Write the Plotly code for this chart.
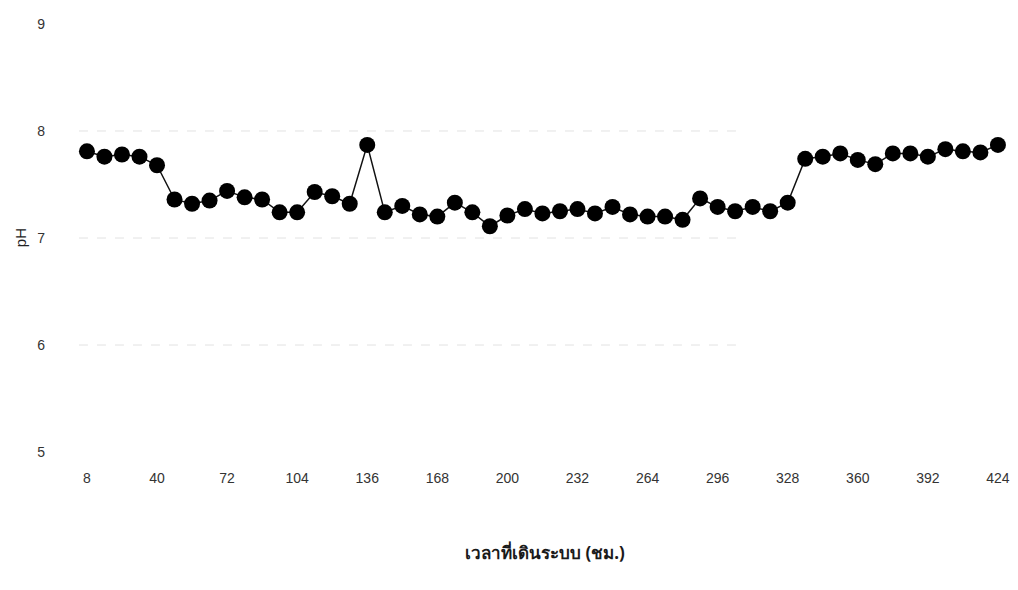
import plotly.graph_objects as go

# Operating time (hours) and measured pH
hours = [8 * i for i in range(1, 54)]
ph = [7.81, 7.76, 7.78, 7.76, 7.68, 7.36, 7.32, 7.35, 7.44, 7.38,
      7.36, 7.24, 7.24, 7.43, 7.39, 7.32, 7.87, 7.24, 7.30, 7.22,
      7.20, 7.33, 7.24, 7.11, 7.21, 7.27, 7.23, 7.25, 7.27, 7.23,
      7.29, 7.22, 7.20, 7.20, 7.17, 7.37, 7.29, 7.25, 7.29, 7.25,
      7.33, 7.74, 7.76, 7.79, 7.73, 7.69, 7.79, 7.79, 7.76, 7.83,
      7.81, 7.80, 7.87]

x_ticks = list(range(8, 425, 32))
y_ticks = [5, 6, 7, 8, 9]
grid_levels = [6, 7, 8]

fig = go.Figure()
fig.add_trace(go.Scatter(
    x=hours, y=ph, mode="lines+markers",
    line=dict(color="#111111", width=1.5),
    marker=dict(color="#000000", size=16),
    showlegend=False,
))

# faint dashed guide lines at the inner pH levels
for lvl in grid_levels:
    fig.add_shape(type="line", xref="paper", yref="y",
                  x0=0.02, x1=0.72, y0=lvl, y1=lvl,
                  line=dict(color="#e2e2e2", width=1, dash="dash"),
                  layer="below")

# axis titles
fig.add_annotation(text="เวลาที่เดินระบบ (ชม.)", xref="paper", yref="paper",
                   x=0.512, y=-0.222, showarrow=False,
                   xanchor="center", yanchor="middle",
                   font=dict(family="Noto Sans, sans-serif", size=17,
                             color="#1a1a1a", weight="bold"))
fig.add_annotation(text="pH", xref="paper", yref="paper",
                   x=-0.042, y=0.5, showarrow=False, textangle=-90,
                   xanchor="center", yanchor="middle",
                   font=dict(size=15, color="#222222"))

font_family = "Liberation Sans, Arial, sans-serif"
fig.update_layout(
    width=1018, height=590,
    margin=dict(l=60, r=10, t=20, b=134, autoexpand=False),
    paper_bgcolor="white", plot_bgcolor="white",
    font=dict(family=font_family, size=14, color="#333333"),
    xaxis=dict(
        range=[-4.3, 428.6], tickvals=x_ticks, automargin=False,
        showgrid=False, zeroline=False, showline=False,
        ticks="", ticklabelstandoff=12,
        tickfont=dict(size=14, color="#333333"),
    ),
    yaxis=dict(
        range=[4.963, 9.037], tickvals=y_ticks, automargin=False,
        showgrid=False, zeroline=False, showline=False,
        ticks="", ticklabelstandoff=14,
        tickfont=dict(size=14, color="#333333"),
    ),
)

fig.write_html("out.html")
